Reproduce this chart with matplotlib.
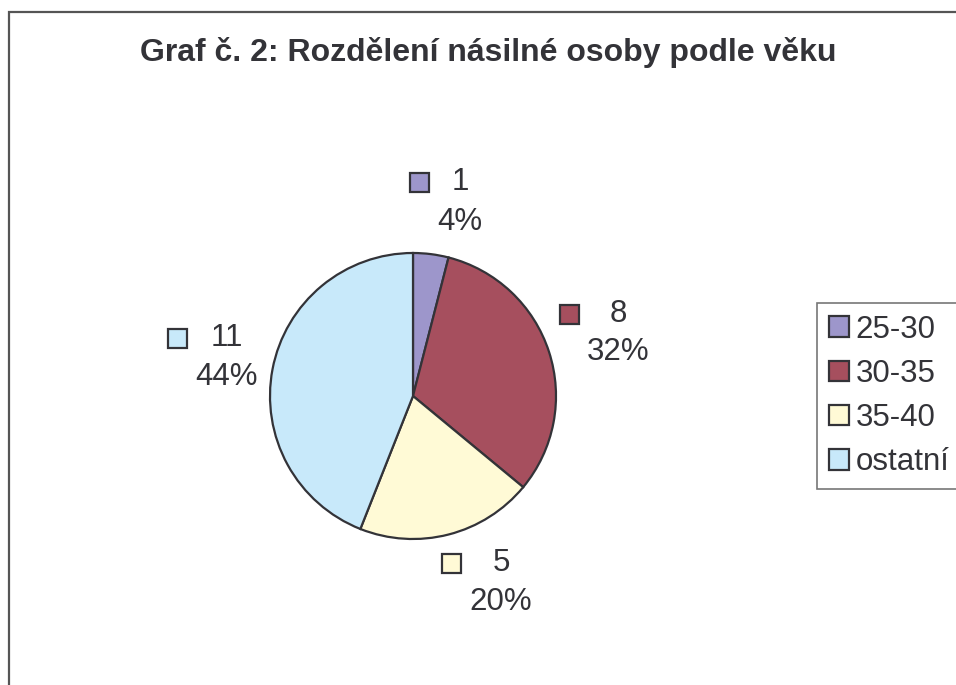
import matplotlib
matplotlib.use("Agg")
import matplotlib.pyplot as plt
from matplotlib.patches import Rectangle

plt.rcParams['font.family'] = ['Liberation Sans', 'DejaVu Sans']

# data
groups = ['25-30', '30-35', '35-40', 'ostatní']
counts = [1, 8, 5, 11]
colors = ['#9d96cb', '#a64f5e', '#fffad6', '#c8e9fa']

W, H = 956, 685
txt = '#333338'
edge = '#333338'

fig = plt.figure(figsize=(W / 100, H / 100), dpi=100)
ax = fig.add_axes([0, 0, 1, 1])

# outer chart frame (runs off right and bottom)
ax.add_patch(Rectangle((9, -20), 1100, H - 12 + 20, fill=False,
                       edgecolor='#555555', linewidth=1.6))

ax.text(488, H - 52, 'Graf č. 2: Rozdělení násilné osoby podle věku',
        ha='center', va='center', fontsize=23, fontweight='bold', color=txt)

wedges, _ = ax.pie(counts, colors=colors, startangle=90, counterclock=False,
                   center=(413, H - 396), radius=143, frame=True,
                   wedgeprops=dict(edgecolor=edge, linewidth=1.6))
ax.set_xlim(0, W)
ax.set_ylim(0, H)
ax.set_aspect('equal')
ax.axis('off')

# data labels: (square x, text x, line1 y, line2 y) in pixels from top-left
label_pos = [(420, 460, 182, 222),
             (570, 618, 314, 352),
             (452, 501, 563, 602),
             (178, 227, 338, 377)]
total = sum(counts)
for n, c, (sx, tx, y1, y2) in zip(counts, colors, label_pos):
    ax.add_patch(Rectangle((sx - 9.5, H - y1 - 9.5), 19, 19, facecolor=c,
                           edgecolor=edge, linewidth=1.6))
    ax.text(tx, H - y1, str(n), ha='center', va='center', fontsize=22.5, color=txt)
    ax.text(tx, H - y2, f'{round(100 * n / total)}%', ha='center', va='center',
            fontsize=22.5, color=txt)

leg = ax.legend(wedges, groups, loc='upper left',
                bbox_to_anchor=(817 / W, 1 - 303 / H), bbox_transform=fig.transFigure,
                borderaxespad=0, frameon=True, fancybox=False, fontsize=22.5,
                handlelength=0.65, handleheight=0.65, handletextpad=0.2,
                labelspacing=0.45, borderpad=0.38, labelcolor=txt)
leg.get_frame().set_edgecolor('#555555')
leg.get_frame().set_linewidth(1.2)

fig.savefig('out.png', dpi=100)
